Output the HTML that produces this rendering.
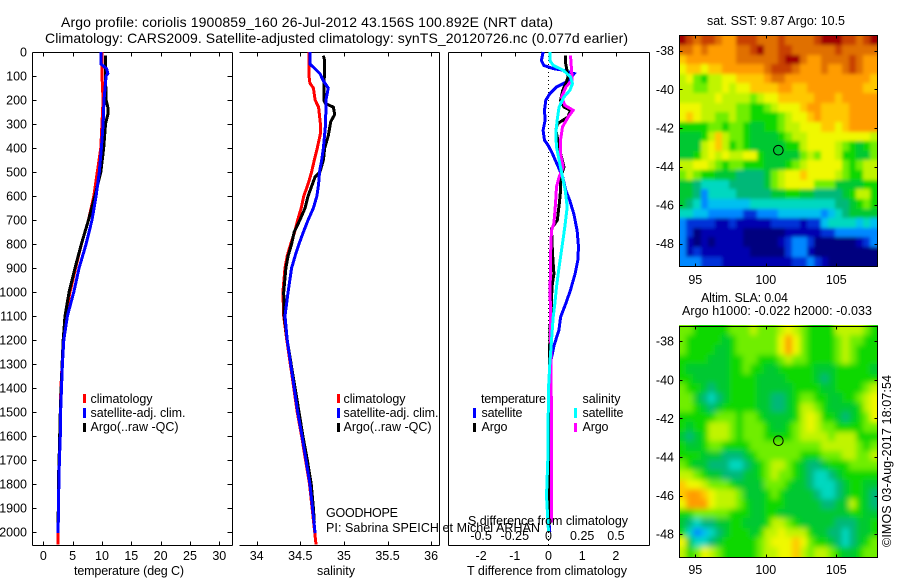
<!DOCTYPE html>
<html>
<head>
<meta charset="utf-8">
<title>Argo profile chart</title>
<style>
html,body{margin:0;padding:0;background:#fff;width:900px;height:580px;overflow:hidden}
svg{display:block}
text{font-family:"Liberation Sans",sans-serif;font-size:12.5px;fill:#000}
.t{font-size:14px}
line,rect.c,path{shape-rendering:crispEdges}
</style>
</head>
<body>
<svg id="chart" xmlns="http://www.w3.org/2000/svg" width="900" height="580" viewBox="0 0 900 580">
<defs>
<filter id="soft-sst" filterUnits="userSpaceOnUse" x="660" y="20" width="240" height="260"><feGaussianBlur stdDeviation="1.8"/></filter>
<filter id="soft-sla" filterUnits="userSpaceOnUse" x="660" y="310" width="240" height="260"><feGaussianBlur stdDeviation="3"/></filter>
<clipPath id="clip-sst"><rect x="679" y="35" width="199" height="232"/></clipPath>
<clipPath id="clip-sla"><rect x="679" y="325" width="199" height="232"/></clipPath>
</defs>
<rect x="0" y="0" width="900" height="580" fill="#fff"/>
<text class="t" x="61" y="27" textLength="492">Argo profile: coriolis 1900859_160 26-Jul-2012 43.156S 100.892E (NRT data)</text>
<text class="t" x="45" y="43" textLength="583">Climatology: CARS2009. Satellite-adjusted climatology: synTS_20120726.nc (0.077d earlier)</text>
<g id="maps"></g>
<g id="panels"></g>
<g id="marks"></g>
<g id="labels"></g>
<text x="74" y="575" textLength="110">temperature (deg C)</text>
<text x="317" y="575" textLength="38">salinity</text>
<text x="467" y="575" textLength="160">T difference from climatology</text>
<text x="468" y="525" textLength="160">S difference from climatology</text>
<g>
<rect x="83" y="394" width="3" height="9" fill="#f00"/>
<text x="90.5" y="403" textLength="62">climatology</text>
<rect x="83" y="408" width="3" height="10" fill="#00f"/>
<text x="90.5" y="417" textLength="95">satellite-adj. clim.</text>
<rect x="83" y="423" width="3" height="9" fill="#000"/>
<text x="90.5" y="431" textLength="88">Argo(..raw -QC)</text>
</g>
<g>
<rect x="337" y="394" width="3" height="9" fill="#f00"/>
<text x="343.5" y="403" textLength="62">climatology</text>
<rect x="337" y="408" width="3" height="10" fill="#00f"/>
<text x="343.5" y="417" textLength="95">satellite-adj. clim.</text>
<rect x="337" y="423" width="3" height="9" fill="#000"/>
<text x="343.5" y="431" textLength="88">Argo(..raw -QC)</text>
</g>
<g>
<text x="481" y="403" textLength="65">temperature</text>
<rect x="473" y="408" width="3" height="10" fill="#00f"/>
<text x="481.5" y="417" textLength="41">satellite</text>
<rect x="473" y="423" width="3" height="9" fill="#000"/>
<text x="481.5" y="431" textLength="26">Argo</text>
<text x="582.5" y="403" textLength="38">salinity</text>
<rect x="574" y="408" width="3" height="10" fill="#0ff"/>
<text x="582.5" y="417" textLength="41">satellite</text>
<rect x="574" y="423" width="3" height="9" fill="#f0f"/>
<text x="582.5" y="431" textLength="26">Argo</text>
</g>
<text x="326" y="517" textLength="72">GOODHOPE</text>
<text x="326" y="532" textLength="214">PI: Sabrina SPEICH et Michel ARHAN</text>
<text x="707" y="25" textLength="138">sat. SST: 9.87 Argo: 10.5</text>
<text x="701" y="302" textLength="87">Altim. SLA: 0.04</text>
<text x="682" y="315" textLength="190">Argo h1000: -0.022 h2000: -0.033</text>
<text transform="translate(891 547) rotate(-90)" x="0" y="0" textLength="172">©IMOS 03-Aug-2017 18:07:54</text>
</svg>
<script>
// ---- axis tick data
const depthTicks = [0,100,200,300,400,500,600,700,800,900,1000,1100,1200,1300,1400,1500,1600,1700,1800,1900,2000];
const tempTicks = [0,5,10,15,20,25,30];
const salTicks = [34,34.5,35,35.5,36];
const salTickLabels = ['34','34.5','35','35.5','36'];
const tDiffTicks = [-2,-1,0,1,2];
const sDiffTicks = [-0.5,-0.25,0,0.25,0.5];
const lonTicks = [95,100,105];
const latTicks = [-38,-40,-42,-44,-46,-48];

// ---- temperature profiles
const tempClimDepth = [0,100,200,400,500,600,700,800,900,1000,1100,1200,1300,1400,1500,1600,1700,1800,1900,2000,2052];
const tempClimValue = [10,10,10.2,9.8,9.2,8.6,7.7,6.5,5.5,4.55,3.8,3.4,3.2,3.0,2.9,2.85,2.75,2.65,2.6,2.5,2.5];
const tempSatDepth = [0,50,70,90,100,200,300,400,500,600,700,800,900,1000,1100,1200,1300,1400,1500,1600,1700,1800,1900,2005];
const tempSatValue = [9.85,9.85,10.8,11,10.7,10.35,10.2,9.9,9.55,9,8.3,7.3,6.1,5.2,4.1,3.5,3.25,3.1,2.95,2.9,2.75,2.65,2.6,2.5];
const tempArgoDepth = [15,100,200,230,260,300,400,500,600,700,800,900,1000,1100,1200,1300,1400,1500,1600,1700,1800,1900,2000];
const tempArgoValue = [10.6,10.6,10.7,11,11,10.6,10.3,9.8,8.8,7.7,6.5,5.4,4.4,3.7,3.4,3.2,3.05,2.9,2.8,2.7,2.55,2.55,2.5];

// ---- salinity profiles
const salClimDepth = [0,100,130,150,200,230,300,340,400,450,500,550,600,650,700,750,800,850,900,1000,1100,1200,1300,1400,1500,1600,1700,1800,1900,2000,2052];
const salClimValue = [34.6,34.6,34.61,34.65,34.67,34.71,34.73,34.73,34.695,34.66,34.63,34.59,34.54,34.51,34.47,34.435,34.39,34.35,34.325,34.3,34.31,34.345,34.385,34.425,34.465,34.515,34.56,34.605,34.635,34.665,34.68];
const salSatDepth = [0,50,70,90,120,150,200,300,400,450,500,550,600,650,700,750,800,850,900,1000,1100,1200,1300,1400,1500,1600,1700,1800,1900,2005];
const salSatValue = [34.61,34.61,34.67,34.725,34.765,34.82,34.795,34.79,34.765,34.745,34.72,34.71,34.69,34.65,34.59,34.535,34.485,34.44,34.4,34.36,34.325,34.35,34.39,34.43,34.47,34.52,34.565,34.61,34.64,34.67];
const salArgoDepth = [15,30,100,200,215,230,260,290,350,400,450,500,520,600,650,700,750,800,850,900,1000,1100,1200,1300,1400,1500,1600,1700,1800,1900,1960];
const salArgoValue = [34.765,34.775,34.775,34.77,34.79,34.88,34.895,34.85,34.82,34.78,34.765,34.725,34.67,34.59,34.555,34.495,34.43,34.4,34.36,34.335,34.31,34.315,34.35,34.395,34.44,34.485,34.53,34.58,34.625,34.65,34.66];

// ---- difference profiles
const dTSatDepth = [0,35,56,69,76,90,104,125,146,174,201,243,285,326,368,389,424,479,521,576,618,674,743,812,868,924,993,1049,1104,1160,1220,1300,1400,1500,1700,1900,2000];
const dTSatValue = [-0.16,-0.21,-0.14,0.14,0.44,0.76,0.68,0.53,0.24,0.04,-0.08,-0.12,-0.1,-0.16,-0.12,-0.01,0.12,0.29,0.42,0.51,0.63,0.75,0.85,0.89,0.87,0.79,0.65,0.51,0.36,0.31,0.17,0.05,0,0,-0.02,-0.02,0.04];
const dTArgoDepth = [14,49,76,104,132,160,201,229,243,271,299,326,368,424,479,521,576,632,701,736,840,924,979,1049,1104,1200,1400,1700,2000];
const dTArgoValue = [0.51,0.51,0.55,0.58,0.51,0.42,0.36,0.46,0.65,0.58,0.26,0.22,0.28,0.36,0.46,0.36,0.36,0.32,0.26,0.09,0.12,0.16,0.1,0.09,0.06,0.04,0.02,0,0];
const dSArgoDepth = [14,90,118,146,188,222,243,271,312,368,424,479,521,562,632,715,743,812,993,1104,1400,1700,1960];
const dSArgoValue = [0.163,0.173,0.173,0.129,0.097,0.121,0.183,0.146,0.104,0.089,0.089,0.109,0.079,0.059,0.052,0.04,0.022,0.017,0.012,0.015,0.02,0.024,0.024];
const dSSatDepth = [0,35,56,76,104,132,160,188,229,285,340,396,451,521,576,646,729,812,896,979,1049,1104,1300,1400,1700,1850,2000];
const dSSatValue = [0.01,0.01,0.035,0.109,0.163,0.178,0.158,0.114,0.079,0.064,0.054,0.059,0.079,0.104,0.124,0.139,0.121,0.1,0.079,0.059,0.047,0.035,0.01,0,-0.005,-0.015,0];

// ---- map cell levels (row = latitude from north, column = longitude from west)
const sstLevels = [
[16,15,14,15,15,14,13,13,15,15,15,14,14,14,15,14,14,14,14,15,16,16,16,15,15,14,15,16],
[14,14,13,14,13,13,13,13,14,14,15,16,14,14,15,15,14,14,14,14,14,14,15,14,14,14,14,14],
[12,13,13,13,13,13,13,13,14,14,14,14,14,14,15,16,16,14,13,13,14,14,14,14,15,14,13,13],
[11,12,12,11,12,12,13,13,13,13,13,13,14,15,15,15,14,13,13,13,14,13,13,14,15,14,13,13],
[10,11,9,8,10,10,11,11,12,12,12,12,13,14,14,13,13,13,13,13,13,13,13,13,13,13,13,12],
[10,10,9,9,10,10,11,10,11,11,12,12,12,12,13,13,12,12,13,13,13,13,13,13,13,13,12,12],
[10,10,10,10,10,11,10,10,10,10,9,10,11,11,12,12,12,12,12,13,13,13,12,13,13,13,13,13],
[11,11,11,10,10,10,10,10,9,9,8,8,9,10,11,11,11,12,13,13,12,12,12,12,13,13,13,13],
[11,12,11,10,10,9,9,10,9,9,8,8,8,8,9,10,11,11,12,13,12,12,12,12,13,13,13,13],
[8,8,8,8,9,9,8,9,9,8,7,7,8,8,9,10,10,11,11,11,12,12,11,12,13,13,13,13],
[7,7,7,8,10,12,10,9,9,8,7,7,7,7,8,9,10,10,11,11,11,11,11,11,11,11,11,10],
[7,7,7,10,11,12,10,8,9,8,7,7,7,7,7,8,8,10,11,11,11,11,10,9,8,7,8,9],
[7,7,8,10,11,10,11,10,10,11,11,8,7,7,7,7,7,9,10,9,11,11,10,8,8,7,7,9],
[10,10,11,11,10,9,8,9,9,8,8,8,7,7,7,8,9,10,11,11,11,11,11,9,8,9,10,10],
[9,10,9,8,8,7,7,7,6,6,6,6,7,9,10,11,11,12,11,11,11,11,10,9,8,8,10,10],
[7,7,6,5,5,5,5,6,6,6,6,6,7,9,10,11,11,11,11,9,9,9,7,7,7,7,8,8],
[7,7,6,3,5,5,5,5,6,6,6,6,6,7,7,8,8,7,7,6,6,6,6,7,8,10,10,8],
[7,6,5,3,4,4,4,4,4,4,5,5,5,5,5,5,5,5,5,5,5,5,6,6,7,8,9,8],
[5,5,4,4,3,3,3,3,3,2,2,3,3,3,4,4,4,4,4,4,3,4,5,6,7,7,7,7],
[3,2,2,2,2,1,1,2,1,1,1,1,1,2,2,2,2,1,2,2,4,5,5,5,5,4,5,4],
[3,2,0,1,1,1,1,1,1,0,0,0,0,0,0,1,1,1,1,1,2,2,3,3,3,3,3,3],
[3,1,0,1,0,1,1,1,1,0,0,0,0,0,1,2,3,3,2,0,0,0,0,0,0,1,2,3],
[3,1,2,1,1,1,1,1,1,1,0,0,0,0,0,2,3,3,1,0,0,0,0,0,0,0,0,0],
[3,3,3,2,2,2,1,1,1,1,1,1,1,1,1,1,2,2,3,2,1,0,0,0,0,0,0,0]
];
const slaLevels = [
[9,9,8,8,8,8,8,9,9,9,10,9,9,9,10,11,10,9,8,8,8,8,10,10,10,10,9,8],
[9,8,8,8,8,8,7,8,9,9,9,9,9,9,11,13,11,9,8,8,8,8,9,10,9,9,8,8],
[9,8,8,8,8,7,7,8,9,9,9,9,9,9,11,13,11,9,8,8,8,8,9,10,9,8,8,8],
[8,8,8,8,7,7,7,8,8,9,9,8,8,8,9,10,9,9,8,8,8,8,9,10,9,8,8,8],
[8,7,7,7,7,7,7,8,8,9,8,8,7,7,8,8,8,8,8,7,7,7,8,8,8,8,8,7],
[8,8,7,7,7,7,7,8,8,8,8,7,7,7,7,8,8,8,8,7,6,7,8,8,8,8,8,8],
[9,8,8,7,6,7,7,8,8,8,8,7,7,7,7,7,8,8,8,8,7,7,8,8,8,8,9,10],
[9,9,7,6,5,6,7,8,8,8,8,7,7,6,6,7,8,9,9,8,8,7,7,8,8,9,10,11],
[9,9,8,7,6,7,8,8,8,8,8,7,7,6,6,7,8,10,10,9,8,7,7,7,7,8,10,11],
[8,8,8,8,8,9,9,9,8,9,9,8,7,7,7,7,8,10,11,10,8,8,7,6,7,8,9,11],
[8,7,8,8,10,10,10,9,8,9,9,9,8,7,7,8,9,10,11,10,9,9,8,8,8,8,9,9],
[7,6,7,8,10,10,10,9,8,9,9,9,8,8,8,8,9,10,10,10,10,9,10,10,10,8,8,8],
[8,7,7,8,9,9,8,8,8,8,9,9,9,9,9,9,9,9,9,9,10,10,10,10,10,9,8,9],
[8,8,8,7,7,7,6,6,6,7,8,9,9,9,9,9,9,8,8,8,9,9,9,10,10,9,9,10],
[9,8,7,7,6,6,6,5,5,6,7,8,9,10,10,9,8,7,6,6,7,8,8,8,9,9,9,9],
[10,10,9,8,7,7,6,6,6,7,7,8,9,10,9,9,8,7,6,5,5,6,7,8,8,8,8,8],
[12,11,11,10,9,9,9,8,7,7,7,7,9,9,9,8,7,7,6,5,5,5,6,7,8,8,7,7],
[12,13,13,12,11,10,10,10,9,7,7,7,8,9,8,7,7,7,7,6,5,5,6,7,8,8,7,6],
[11,13,13,13,11,10,10,10,9,8,7,7,8,8,8,7,7,7,7,7,6,6,7,7,10,8,7,6],
[8,8,9,9,9,9,9,8,8,8,7,7,8,8,7,7,7,7,7,7,7,7,7,7,8,8,7,7],
[7,6,5,6,6,7,7,8,8,7,7,7,8,10,10,9,8,7,7,7,7,7,6,6,6,7,7,8],
[8,5,3,4,5,6,7,8,8,8,7,8,10,10,11,10,10,10,8,7,7,6,6,5,6,7,7,8],
[11,7,5,5,6,7,8,8,8,8,8,9,10,11,11,11,12,11,9,8,8,7,6,5,6,7,8,9],
[10,8,9,11,10,9,8,8,8,8,8,9,10,10,11,11,12,10,9,10,10,9,8,7,7,8,9,9]
];
const levelColors = ['#00007f','#0000b0','#0030d8','#0088ff','#00c0f0','#00d8c0','#00b878','#00c830','#10d800','#70ee00','#c0f400','#f0f800','#ffc800','#ff9c00','#e07000','#c84000','#a00000'];
const floatLon = 100.892;
const floatLat = -43.156;

// ---- axis functions
const NS = 'http://www.w3.org/2000/svg';
const yDepth = d => 52 + d * 0.24;
const xTemp = t => 43.3 + t * 5.867;
const xSal = s => 256.7 + (s - 34) * 87.2;
const xDT = t => 548.5 + t * 33.7;
const xDS = s => 548.5 + s * 134.8;
const xLon = lon => 695.3 + (lon - 95) * 14.1;
const MAP_LEFT = 679.3, MAP_RIGHT = 877.3, CELL_W = 198 / 28, CELL_H = 231 / 24;
const yLat = (lat, y38) => y38 + (-38 - lat) * 19.3;

function make(tag, attrs, parent, txt) {
  const el = document.createElementNS(NS, tag);
  for (const k in attrs) el.setAttribute(k, attrs[k]);
  if (txt !== undefined) el.textContent = txt;
  parent.appendChild(el);
  return el;
}
function seg(parent, x1, y1, x2, y2) {
  return make('line', {x1: Math.round(x1) + .5, y1: Math.round(y1) + .5, x2: Math.round(x2) + .5, y2: Math.round(y2) + .5, stroke: '#000', 'stroke-width': 1}, parent);
}
const panels = document.getElementById('panels');
const labels = document.getElementById('labels');
const marks = document.getElementById('marks');
const maps = document.getElementById('maps');

// ---- panel frames
const TOP = 52, BOT = 545;
[[32, 232, true], [239, 439, false], [448, 649, true]].forEach(function (p) {
  const top = seg(panels, p[0], TOP, p[1], TOP);
  
  
  const bot = seg(panels, p[0], BOT, p[1], BOT);
  
  
  const right = seg(panels, p[1], TOP, p[1], BOT);
  
  
  if (p[2]) {
    const left = seg(panels, p[0], TOP, p[0], BOT);
    
    
  }
});

// ---- depth ticks and labels
depthTicks.forEach(function (d) {
  const y = yDepth(d);
  const a = seg(panels, 32, y, 36, y);
  
  
  const b = seg(panels, 227, y, 232, y);
  
  
  const t = make('text', {x: 27, y: y + 4.5, 'text-anchor': 'end'}, labels, String(d));
  
  
});

// ---- horizontal ticks
tempTicks.forEach(function (v) {
  const x = xTemp(v);
  const a = seg(panels, x, TOP, x, TOP + 4);
  
  
  const b = seg(panels, x, BOT - 4, x, BOT);
  
  
  const t = make('text', {x: x, y: 560, 'text-anchor': 'middle'}, labels, String(v));
  
  
});
salTicks.forEach(function (v, i) {
  const x = xSal(v);
  const a = seg(panels, x, TOP, x, TOP + 4);
  
  
  const b = seg(panels, x, BOT - 4, x, BOT);
  
  
  const t = make('text', {x: x, y: 560, 'text-anchor': 'middle'}, labels, salTickLabels[i]);
  
  
});
tDiffTicks.forEach(function (v) {
  const x = xDT(v);
  const a = seg(panels, x, TOP, x, TOP + 4);
  
  
  const t = make('text', {x: x, y: 560, 'text-anchor': 'middle'}, labels, v < 0 ? '-' + (-v) : String(v));
  
  
});
sDiffTicks.forEach(function (v) {
  const t = make('text', {x: xDS(v), y: 540, 'text-anchor': 'middle'}, labels, v < 0 ? '-' + (-v) : String(v));
  
  
});

// ---- dotted zero line
const zero = make('line', {x1: 548.5, y1: TOP, x2: 548.5, y2: BOT, stroke: '#000', 'stroke-width': 1, 'stroke-dasharray': '1 3'}, marks);



// ---- series
function profile(depths, values, xFn, color) {
  const d = depths.map(function (z, i) { return (i ? 'L' : 'M') + xFn(values[i]).toFixed(1) + ' ' + yDepth(z).toFixed(1); }).join('');
  return make('path', {d: d, fill: 'none', stroke: color, 'stroke-width': 3}, marks);
}
const s1 = profile(tempClimDepth, tempClimValue, xTemp, '#f00');


const s2 = profile(tempArgoDepth, tempArgoValue, xTemp, '#000');


const s3 = profile(tempSatDepth, tempSatValue, xTemp, '#00f');


const s4 = profile(salClimDepth, salClimValue, xSal, '#f00');


const s5 = profile(salArgoDepth, salArgoValue, xSal, '#000');


const s6 = profile(salSatDepth, salSatValue, xSal, '#00f');


const s7 = profile(dTSatDepth, dTSatValue, xDT, '#00f');


const s8 = profile(dTArgoDepth, dTArgoValue, xDT, '#000');


const s9 = profile(dSArgoDepth, dSArgoValue, xDS, '#f0f');


const s10 = profile(dSSatDepth, dSSatValue, xDS, '#0ff');



// ---- maps
function drawMap(levels, top, y38, lonLabelY, nameBase, softId, clipId) {
  const bottom = top + CELL_H * levels.length;
  const clip = make('g', {'clip-path': 'url(#' + clipId + ')'}, maps);
  
  
  const layer = make('g', {filter: 'url(#' + softId + ')'}, clip);
  
  
  levels.forEach(function (row, r) {
    row.forEach(function (v, c) {
      // outermost cells extend past the clip so the smoothing does not fade at the edge
      const x0 = c === 0 ? 660 : Math.round(MAP_LEFT + c * CELL_W);
      const x1 = c === row.length - 1 ? 900 : Math.round(MAP_LEFT + (c + 1) * CELL_W);
      const y0 = r === 0 ? top - 15 : Math.round(top + r * CELL_H);
      const y1 = r === levels.length - 1 ? bottom + 15 : Math.round(top + (r + 1) * CELL_H);
      const cell = make('rect', {class: 'c', x: x0, y: y0, width: x1 - x0, height: y1 - y0, fill: levelColors[v]}, layer);
      
      
    });
  });
  const frame = make('rect', {x: 679.5, y: Math.round(top) + .5, width: 198, height: Math.round(bottom) - Math.round(top), fill: 'none', stroke: '#000', 'stroke-width': 1}, maps);
  
  
  lonTicks.forEach(function (lon) {
    const x = xLon(lon);
    const a = seg(maps, x, top, x, top + 3);
    
    
    const b = seg(maps, x, bottom - 3, x, bottom);
    
    
    const t = make('text', {x: x, y: lonLabelY, 'text-anchor': 'middle'}, labels, String(lon));
    
    
  });
  latTicks.forEach(function (lat) {
    const y = yLat(lat, y38);
    const a = seg(maps, MAP_LEFT, y, MAP_LEFT + 3, y);
    
    
    const b = seg(maps, MAP_RIGHT - 3, y, MAP_RIGHT, y);
    
    
    const t = make('text', {x: 674, y: y + 4.5, 'text-anchor': 'end'}, labels, String(lat));
    
    
  });
  const dot = make('circle', {cx: xLon(floatLon), cy: yLat(floatLat, y38), r: 4.8, fill: 'none', stroke: '#000', 'stroke-width': 1}, maps);
  
  
}
drawMap(sstLevels, 35.3, 50.7, 284, 'sst-map', 'soft-sst', 'clip-sst');
drawMap(slaLevels, 325.7, 341.2, 574, 'sla-map', 'soft-sla', 'clip-sla');
</script>
</body>
</html>
